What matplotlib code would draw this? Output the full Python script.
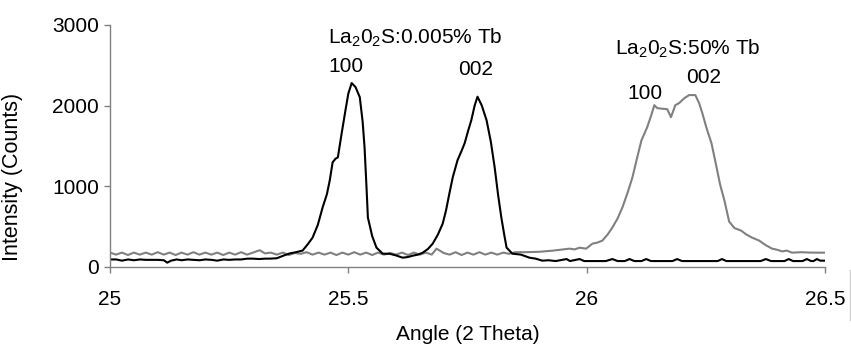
import numpy as np
import matplotlib.pyplot as plt
from matplotlib.lines import Line2D

plt.rcParams['font.family'] = ['Liberation Sans', 'DejaVu Sans']
plt.rcParams['mathtext.fontset'] = 'custom'
plt.rcParams['mathtext.rm'] = 'Liberation Sans'

# La2O2S:0.005% Tb (black)
x_low = [25.000, 25.013, 25.025, 25.038, 25.050, 25.063, 25.075, 25.088, 25.100, 25.113,
         25.120, 25.128, 25.140, 25.150, 25.163, 25.175, 25.188, 25.200, 25.213, 25.225,
         25.238, 25.250, 25.263, 25.275, 25.288, 25.300, 25.313, 25.325, 25.335, 25.350,
         25.365, 25.377, 25.390, 25.404, 25.415, 25.425, 25.436, 25.446, 25.455, 25.461,
         25.467, 25.473, 25.478, 25.486, 25.494, 25.500, 25.507, 25.515, 25.524, 25.530,
         25.534, 25.538, 25.541, 25.550, 25.559, 25.572, 25.587, 25.600, 25.614, 25.625,
         25.635, 25.646, 25.656, 25.667, 25.677, 25.688, 25.698, 25.705, 25.712, 25.719,
         25.729, 25.737, 25.744, 25.751, 25.758, 25.765, 25.771, 25.780, 25.790, 25.799,
         25.807, 25.814, 25.821, 25.827, 25.832, 25.844, 25.862, 25.880, 25.893, 25.907,
         25.920, 25.935, 25.958, 25.965, 25.985, 25.995, 26.040, 26.054, 26.065, 26.080,
         26.090, 26.100, 26.115, 26.125, 26.135, 26.180, 26.190, 26.200, 26.275, 26.284,
         26.293, 26.365, 26.376, 26.387, 26.415, 26.424, 26.433, 26.453, 26.462, 26.471,
         26.476, 26.483, 26.490, 26.500]
y_low = [90, 90, 75, 90, 80, 90, 85, 85, 85, 80,
         50, 75, 90, 80, 90, 85, 80, 90, 85, 75,
         90, 85, 90, 90, 100, 100, 95, 100, 100, 105,
         140, 165, 180, 200, 280, 361, 520, 735, 900, 1071,
         1295, 1340, 1357, 1656, 1943, 2150, 2279, 2230, 2104, 1800,
         1482, 1000, 610, 380, 237, 162, 160, 140, 112, 120,
         137, 150, 174, 220, 286, 400, 535, 700, 909, 1108,
         1320, 1430, 1532, 1680, 1818, 2000, 2110, 2000, 1818, 1550,
         1233, 900, 610, 400, 237, 162, 150, 112, 100, 75,
         80, 70, 95, 70, 95, 70, 70, 95, 70, 70,
         95, 70, 70, 95, 70, 70, 95, 70, 70, 95,
         70, 70, 95, 70, 70, 95, 70, 70, 95, 70,
         70, 95, 75, 75]

# La2O2S:50% Tb (grey)
x_high = [25.000, 25.0125, 25.025, 25.0375, 25.050, 25.0625, 25.075, 25.0875, 25.100, 25.1125,
          25.125, 25.1375, 25.150, 25.1625, 25.175, 25.1875, 25.200, 25.2125, 25.225, 25.2375,
          25.250, 25.2625, 25.275, 25.2875, 25.300, 25.314, 25.325, 25.3375, 25.350, 25.3625,
          25.375, 25.3875, 25.400, 25.4125, 25.425, 25.4375, 25.450, 25.4625, 25.475, 25.4875,
          25.500, 25.5125, 25.525, 25.5375, 25.550, 25.5625, 25.575, 25.5875, 25.600, 25.6125,
          25.625, 25.6375, 25.650, 25.6625, 25.675, 25.685, 25.700, 25.7125, 25.725, 25.7375,
          25.750, 25.7625, 25.775, 25.7875, 25.800, 25.8125, 25.825, 25.8375, 25.850, 25.870,
          25.900, 25.930, 25.964, 25.975, 25.985, 25.999, 26.012, 26.023, 26.033, 26.044,
          26.054, 26.065, 26.075, 26.086, 26.096, 26.105, 26.115, 26.127, 26.135, 26.142,
          26.148, 26.160, 26.169, 26.177, 26.186, 26.194, 26.205, 26.215, 26.228, 26.236,
          26.243, 26.251, 26.262, 26.272, 26.280, 26.289, 26.299, 26.310, 26.324, 26.335,
          26.347, 26.362, 26.375, 26.389, 26.400, 26.410, 26.420, 26.431, 26.450, 26.470,
          26.500]
y_high = [175, 150, 175, 145, 175, 150, 175, 150, 180, 150,
          175, 145, 175, 150, 180, 150, 175, 150, 175, 145,
          175, 150, 180, 150, 175, 205, 165, 175, 150, 175,
          145, 170, 160, 180, 150, 175, 150, 175, 145, 175,
          150, 180, 150, 175, 145, 175, 150, 170, 150, 175,
          145, 175, 150, 175, 150, 224, 170, 150, 180, 145,
          175, 150, 180, 150, 175, 150, 175, 160, 180, 180,
          185, 200, 224, 215, 236, 224, 286, 300, 324, 400,
          486, 600, 735, 920, 1108, 1330, 1569, 1731, 1870, 2005,
          1968, 1960, 1955, 1856, 2005, 2030, 2092, 2130, 2130, 2030,
          1900, 1731, 1530, 1250, 1020, 822, 560, 480, 448, 400,
          361, 324, 270, 224, 210, 190, 200, 174, 180, 175,
          174]

x_ticks = [25, 25.5, 26, 26.5]
x_tick_labels = ['25', '25.5', '26', '26.5']
y_ticks = [0, 1000, 2000, 3000]

fig = plt.figure(figsize=(8.51, 3.47), dpi=100)
ax = fig.add_axes([0.1293, 0.2314, 0.8401, 0.6966])

ax.plot(x_high, y_high, color='#808080', lw=1.5)
ax.plot(x_low, y_low, color='black', lw=1.5)

ax.set_xlim(25, 26.5)
ax.set_ylim(0, 3000)
ax.set_xticks(x_ticks)
ax.set_xticklabels(x_tick_labels)
ax.set_yticks(y_ticks)

for s in ['top', 'right']:
    ax.spines[s].set_visible(False)
for s in ['left', 'bottom']:
    ax.spines[s].set_color('#808080')
    ax.spines[s].set_linewidth(1.0)

ax.tick_params(axis='both', colors='#808080', labelcolor='black', labelsize=15,
               length=4, width=1.0, direction='out')
ax.tick_params(axis='x', pad=13)
ax.tick_params(axis='y', pad=4)

ax.set_xlabel('Angle (2 Theta)', fontsize=15, labelpad=11)
ax.set_ylabel('Intensity (Counts)', fontsize=15.5)
ax.yaxis.set_label_coords(-0.122, 0.372)

sub2 = r'$_\mathregular{2}$'
ax.text(25.641, 2770, 'La' + sub2 + '0' + sub2 + 'S:0.005% Tb', fontsize=15,
        ha='center', va='baseline')
ax.text(25.495, 2480, '100', fontsize=15, ha='center', va='center')
ax.text(25.767, 2444, '002', fontsize=15, ha='center', va='center')
ax.text(26.211, 2640, 'La' + sub2 + '0' + sub2 + 'S:50% Tb', fontsize=15,
        ha='center', va='baseline')
ax.text(26.123, 2145, '100', fontsize=15, ha='center', va='center')
ax.text(26.245, 2344, '002', fontsize=15, ha='center', va='center')

fig.add_artist(Line2D([849.5 / 851, 849.5 / 851], [1 - 270 / 347, 1 - 320 / 347],
                      color='#d0d0d0', lw=1.0))

fig.savefig('out.png', dpi=100)
